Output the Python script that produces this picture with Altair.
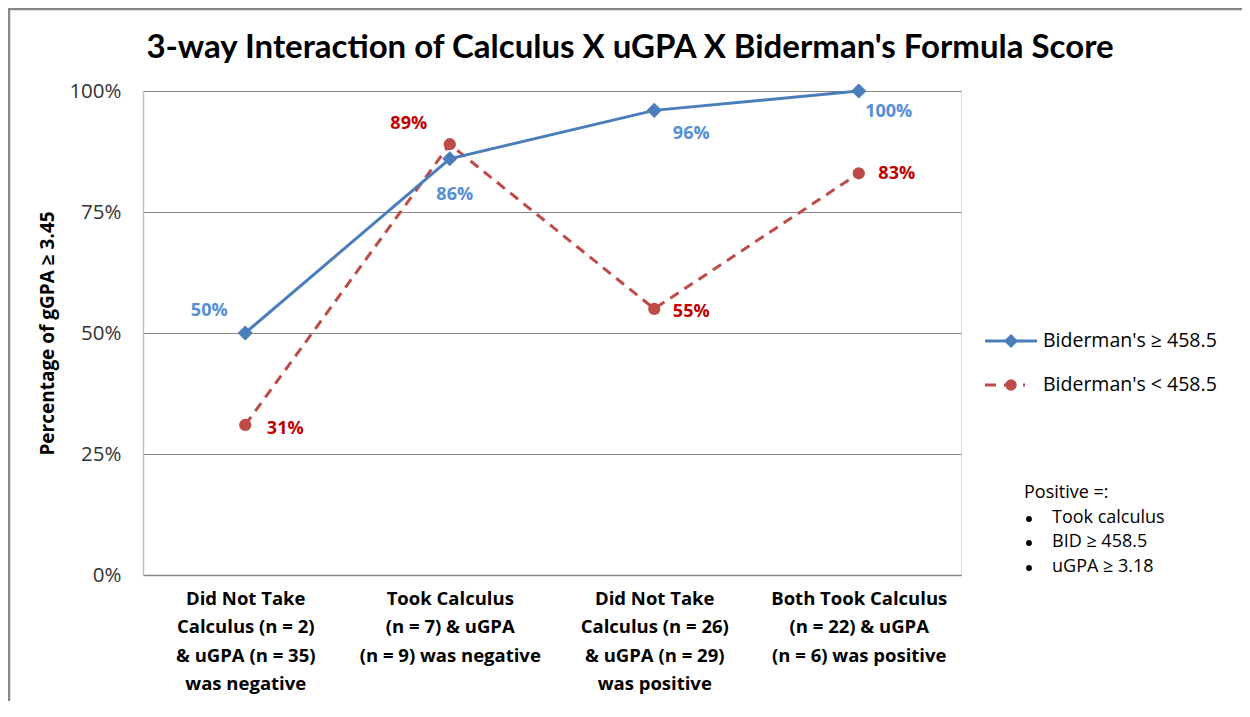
import altair as alt
import pandas as pd

categories = [
    "Did Not Take|Calculus (n = 2)|& uGPA (n = 35)|was negative",
    "Took Calculus|(n = 7) & uGPA|(n = 9) was negative",
    "Did Not Take|Calculus (n = 26)|& uGPA (n = 29)|was positive",
    "Both Took Calculus|(n = 22)  & uGPA|(n = 6) was positive",
]
series_names = ["Biderman's \u2265 458.5", "Biderman's < 458.5"]
high_values = [0.50, 0.86, 0.96, 1.00]
low_values = [0.31, 0.89, 0.55, 0.83]
y_ticks = [0, 0.25, 0.5, 0.75, 1.0]
title_text = "3-way Interaction of Calculus X uGPA X Biderman's Formula Score"

rows = []
for i, c in enumerate(categories):
    rows.append({"cat": c, "idx": i, "series": series_names[0], "value": high_values[i]})
    rows.append({"cat": c, "idx": i, "series": series_names[1], "value": low_values[i]})
df = pd.DataFrame(rows)

BLUE = "#4A7EBB"
RED = "#BE4B48"
BLUE_TXT = "#558ED5"
RED_TXT = "#C00000"
FONT = "Open Sans"

W, H = 818, 484

x_enc = alt.X(
    "cat:N",
    sort=categories,
    scale=alt.Scale(paddingInner=0, paddingOuter=0.5),
    axis=alt.Axis(
        title=None,
        labelExpr="split(datum.label, '|')",
        labelAngle=0,
        labelFont=FONT,
        labelFontSize=18.5,
        labelFontWeight="bold",
        labelColor="#000000",
        labelLineHeight=28.5,
        labelPadding=14,
        labelBaseline="top",
        labelLimit=0,
        ticks=False,
        domain=True,
        domainColor="#868686",
        domainWidth=1.5,
        grid=False,
    ),
)
y_scale = alt.Scale(domain=[0, 1], nice=False)
y_enc = alt.Y(
    "value:Q",
    scale=y_scale,
    axis=alt.Axis(
        values=y_ticks,
        format=".0%",
        title="Percentage of gGPA \u2265 3.45",
        titleFont=FONT,
        titleFontSize=19,
        titleFontWeight="bold",
        titleColor="#000000",
        titleAngle=-90,
        titleAlign="center",
        titleBaseline="middle",
        titleX=-96,
        titleY=H / 2,
        labelFont=FONT,
        labelFontSize=20.5,
        labelColor="#333333",
        labelPadding=22,
        ticks=False,
        domain=True,
        domainColor="#BFBFBF",
        domainWidth=1.5,
        grid=True,
        gridColor="#868686",
        gridWidth=1,
    ),
)

base = alt.Chart(df)

red_line = base.transform_filter(alt.datum.series == series_names[1]).mark_line(
    color=RED, strokeWidth=3, strokeDash=[10, 7]
).encode(x=x_enc, y=y_enc, order="idx:Q")
red_pts = base.transform_filter(alt.datum.series == series_names[1]).mark_point(
    shape="circle", filled=True, color=RED, size=150, opacity=1
).encode(x=x_enc, y=y_enc)
blue_line = base.transform_filter(alt.datum.series == series_names[0]).mark_line(
    color=BLUE, strokeWidth=3
).encode(x=x_enc, y=y_enc, order="idx:Q")
blue_pts = base.transform_filter(alt.datum.series == series_names[0]).mark_point(
    shape="diamond", filled=True, color=BLUE, size=230, opacity=1
).encode(x=x_enc, y=y_enc)

# data label offsets (series, index, dx, dy)
label_offsets = [
    (0, 0, -36, -22), (0, 1, 5, 36), (0, 2, 37, 24), (0, 3, 30, 21),
    (1, 0, 40, 4), (1, 1, -41, -20), (1, 2, 37, 3), (1, 3, 38, 1),
]
label_layers = []
for s, i, dx, dy in label_offsets:
    label_layers.append(
        base.transform_filter(
            (alt.datum.series == series_names[s]) & (alt.datum.idx == i)
        ).mark_text(
            font=FONT, fontSize=18, fontWeight="bold",
            color=BLUE_TXT if s == 0 else RED_TXT,
            dx=dx, dy=dy, align="center", baseline="middle",
        ).encode(x=x_enc, y=y_enc, text=alt.Text("value:Q", format=".0%"))
    )

leg = alt.Chart(pd.DataFrame({"a": [0]}))

# title
title_mark = leg.mark_text(
    font="Lato", fontSize=33, fontWeight="bold", color="#000000",
    align="center", baseline="alphabetic",
).encode(x=alt.value(487), y=alt.value(-33), text=alt.value(title_text))

# legend (drawn manually)
leg_blue_line = leg.mark_rule(color=BLUE, strokeWidth=3).encode(
    x=alt.value(842), x2=alt.value(894), y=alt.value(250))
leg_blue_pt = leg.mark_point(shape="diamond", filled=True, color=BLUE, size=200, opacity=1).encode(
    x=alt.value(868), y=alt.value(250))
leg_red_line = leg.mark_rule(color=RED, strokeWidth=3, strokeDash=[11, 8]).encode(
    x=alt.value(842), x2=alt.value(882), y=alt.value(294))
leg_red_pt = leg.mark_point(shape="circle", filled=True, color=RED, size=130, opacity=1).encode(
    x=alt.value(868), y=alt.value(294))
leg_txt1 = leg.mark_text(font=FONT, fontSize=19.5, color="#000000", align="left", baseline="middle").encode(
    x=alt.value(900), y=alt.value(250), text=alt.value(series_names[0]))
leg_txt2 = leg.mark_text(font=FONT, fontSize=19.5, color="#000000", align="left", baseline="middle").encode(
    x=alt.value(900), y=alt.value(294), text=alt.value(series_names[1]))

note_lines = ["Positive =:", "Took calculus", "BID \u2265 458.5", "uGPA \u2265 3.18"]
note_y = [402, 427, 451, 476]
note_layers = [
    leg.mark_text(font=FONT, fontSize=18, color="#000000", align="left", baseline="middle").encode(
        x=alt.value(881), y=alt.value(note_y[0]), text=alt.value(note_lines[0]))
]
for k in range(1, 4):
    note_layers.append(
        leg.mark_point(shape="circle", filled=True, color="#000000", size=34, opacity=1).encode(
            x=alt.value(886), y=alt.value(note_y[k] + 1)))
    note_layers.append(
        leg.mark_text(font=FONT, fontSize=18, color="#000000", align="left", baseline="middle").encode(
            x=alt.value(909), y=alt.value(note_y[k]), text=alt.value(note_lines[k])))

# outer frame lines
frame_left = leg.mark_rule(color="#888888", strokeWidth=2.5).encode(
    x=alt.value(-134), y=alt.value(-83), y2=alt.value(H + 150))
frame_top = leg.mark_rule(color="#888888", strokeWidth=2.5).encode(
    x=alt.value(-135), x2=alt.value(1110), y=alt.value(-82))

chart = alt.layer(
    red_line, red_pts, blue_line, blue_pts, *label_layers, title_mark,
    leg_blue_line, leg_blue_pt, leg_red_line, leg_red_pt, leg_txt1, leg_txt2,
    *note_layers, frame_left, frame_top,
).properties(
    width=W,
    height=H,
    autosize=alt.AutoSizeParams(type="none"),
    padding={"left": 135, "top": 83, "right": 281, "bottom": 126},
).configure_view(stroke=None).configure(background="white")

chart.save("out.html", embed_options={"renderer": "svg", "actions": False})
